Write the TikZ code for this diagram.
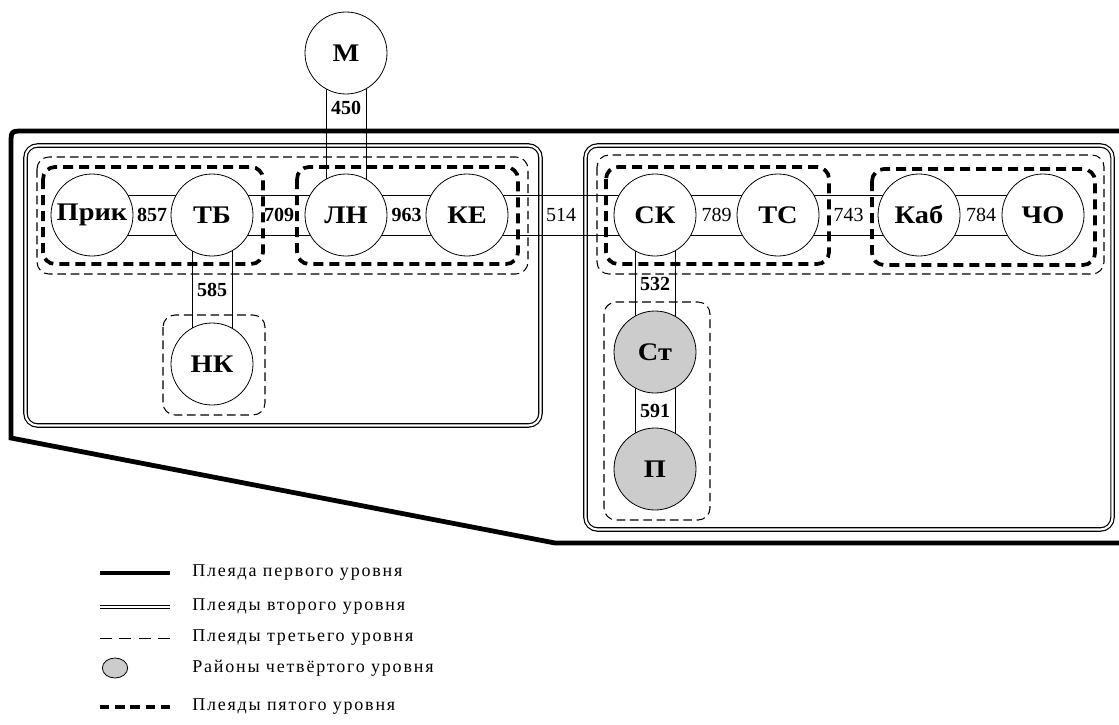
\documentclass[tikz,border=0pt]{standalone}
\usepackage{fontspec}
\setmainfont{Liberation Serif}
\newfontfamily\legfont[LetterSpace=10]{Liberation Serif}
\usetikzlibrary{calc,shapes.geometric}
\newcommand\widen[1]{\scalebox{1.12}[1]{#1}}
\tikzset{
 region/.style={circle, draw, line width=0.6pt, fill=white, minimum size=61.5pt, inner sep=0pt, font=\fontsize{19}{19}\selectfont\bfseries},
 greyreg/.style={fill=black!20},
 elab/.style={inner sep=0pt, font=\fontsize{15}{15}\selectfont\bfseries},
 elabn/.style={inner sep=0pt, font=\fontsize{15}{15}\selectfont},
 lvlone/.style={line width=3.6pt},
 lvltwo/.style={double, line width=0.9pt, double distance=1.6pt, rounded corners=9pt},
 lvlthree/.style={line width=0.8pt, dash pattern=on 6.5pt off 3.5pt, rounded corners=9pt},
 lvlfive/.style={line width=2.8pt, dash pattern=on 7.5pt off 4.5pt, rounded corners=9pt},
 conn/.style={line width=0.7pt},
 legtext/.style={anchor=west, inner sep=0pt, font=\legfont\fontsize{13.5}{13.5}\selectfont},
}
\begin{document}
\begin{tikzpicture}[x=0.75pt,y=-0.75pt]
\clip (0,0) rectangle (1119,724);
\fill[white] (0,0) rectangle (1119,724);

% level 1 polygon
\draw[lvlone] (1130,131) -- (24,131) .. controls (11,131) .. (11,144) -- (11,438) -- (555,543) -- (1130,543);

% level 2 boxes
\draw[lvltwo] (25.5,145.5) rectangle (540.5,425.5);
\draw[lvltwo] (585.5,145.5) rectangle (1112.5,529.5);

% level 3 boxes
\draw[lvlthree] (37,157) rectangle (528,274);
\draw[lvlthree] (597,155) rectangle (1104,274);
\draw[lvlthree] (163,315) rectangle (265,415);
\draw[lvlthree] (604,302) rectangle (710,520);

% level 5 boxes
\draw[lvlfive] (43,167) rectangle (263,264);
\draw[lvlfive] (297,167) rectangle (518,264);
\draw[lvlfive] (606,167) rectangle (829,264);
\draw[lvlfive] (872,169) rectangle (1095,265);

% node positions
\coordinate (pPrik) at (92,215);
\coordinate (pTB) at (212,215);
\coordinate (pLN) at (346,215);
\coordinate (pKE) at (467,215);
\coordinate (pSK) at (655,215);
\coordinate (pTS) at (778,215);
\coordinate (pKab) at (919,215);
\coordinate (pCHO) at (1043,215);
\coordinate (pM) at (346,53);
\coordinate (pNK) at (212,364);
\coordinate (pSt) at (655,352);
\coordinate (pP) at (655,469);

% connectors (horizontal)
\foreach \a/\b in {pPrik/pTB, pTB/pLN, pLN/pKE, pKE/pSK, pSK/pTS, pTS/pKab, pKab/pCHO}{
  \draw[conn] ($(\a)+(0,-20)$) -- ($(\b)+(0,-20)$);
  \draw[conn] ($(\a)+(0,20)$) -- ($(\b)+(0,20)$);
}
% connectors (vertical)
\foreach \a/\b in {pM/pLN, pTB/pNK, pSK/pSt, pSt/pP}{
  \draw[conn] ($(\a)+(-20,0)$) -- ($(\b)+(-20,0)$);
  \draw[conn] ($(\a)+(20,0)$) -- ($(\b)+(20,0)$);
}

% regions
\node[region] (Prik) at (pPrik) {\widen{Прик}};
\node[region] (TB) at (pTB) {\widen{ТБ}};
\node[region] (LN) at (pLN) {\widen{ЛН}};
\node[region] (KE) at (pKE) {\widen{КЕ}};
\node[region] (SK) at (pSK) {\widen{СК}};
\node[region] (TS) at (pTS) {\widen{ТС}};
\node[region] (Kab) at (pKab) {\widen{Каб}};
\node[region] (CHO) at (pCHO) {\widen{ЧО}};
\node[region] (M) at (pM) {\widen{М}};
\node[region] (NK) at (pNK) {\widen{НК}};
\node[region,greyreg] (St) at (pSt) {\widen{Ст}};
\node[region,greyreg] (P) at (pP) {\widen{П}};

% edge labels
\node[elab] (l857) at ($(Prik)!0.5!(TB)$) {857};
\node[elab] (l709) at ($(TB)!0.5!(LN)$) {709};
\node[elab] (l963) at ($(LN)!0.5!(KE)$) {963};
\node[elabn] (l514) at ($(KE)!0.5!(SK)$) {514};
\node[elabn] (l789) at ($(SK)!0.5!(TS)$) {789};
\node[elabn] (l743) at ($(TS)!0.5!(Kab)$) {743};
\node[elabn] (l784) at ($(Kab)!0.5!(CHO)$) {784};
\node[elab] (l450) at ($(M)!0.34!(LN)$) {450};
\node[elab] (l585) at ($(TB)!0.5!(NK)$) {585};
\node[elab] (l532) at ($(SK)!0.5!(St)$) {532};
\node[elab] (l591) at ($(St)!0.5!(P)$) {591};

% legend
\draw[lvlone] (100,573) -- (170,573);
\draw[double, line width=0.9pt, double distance=1.6pt] (100,607) -- (170,607);
\draw[line width=0.7pt, dash pattern=on 9pt off 5.5pt] (100,638) -- (170,638);
\node[ellipse, draw, line width=0.6pt, fill=black!20, minimum width=19pt, minimum height=15pt, inner sep=0pt] (legc) at (115,668) {};
\draw[line width=2.8pt, dash pattern=on 7pt off 4.375pt] (100,707) -- (170,707);
\node[legtext] (t1) at (192,573) {Плеяда первого уровня};
\node[legtext] (t2) at (192,607) {Плеяды второго уровня};
\node[legtext] (t3) at (192,638) {Плеяды третьего уровня};
\node[legtext] (t4) at (192,668) {Районы четвёртого уровня};
\node[legtext] (t5) at (192,707) {Плеяды пятого уровня};
\end{tikzpicture}
\end{document}
